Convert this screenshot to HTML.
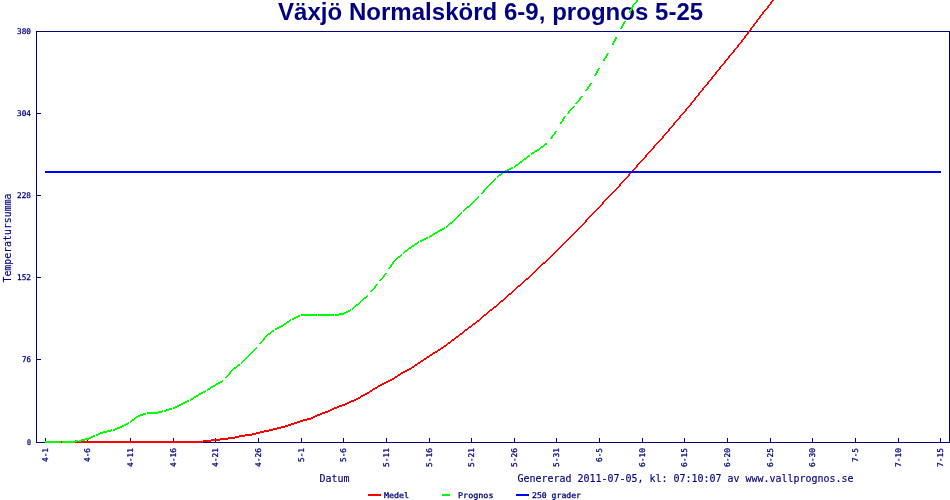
<!DOCTYPE html>
<html lang="sv"><head><meta charset="utf-8"><title>Växjö Normalskörd 6-9, prognos 5-25</title>
<style>
html,body{margin:0;padding:0;background:#fff;}
body{width:950px;height:500px;overflow:hidden;}
svg{display:block;will-change:transform;}
.tiny{font-family:"DejaVu Sans Mono","Liberation Mono",monospace;font-size:7.8px;fill:#000080;stroke:#000080;stroke-width:0.28px;}
.small{font-family:"DejaVu Sans Mono","Liberation Mono",monospace;font-size:11px;fill:#000080;stroke:#000080;stroke-width:0.15px;}
.title{font-family:"Liberation Sans",Arial,sans-serif;font-weight:bold;font-size:24px;fill:#000080;}
</style></head><body>
<svg width="950" height="500" viewBox="0 0 950 500">
<rect x="0" y="0" width="950" height="500" fill="#fff"/>
<text class="title" x="278" y="19.6" textLength="425.2" lengthAdjust="spacing">Växjö Normalskörd 6-9, prognos 5-25</text>
<g shape-rendering="crispEdges" stroke="none">
<g fill="#000080">
<rect x="36" y="31" width="914" height="1"/>
<rect x="36" y="442" width="914" height="1"/>
<rect x="36" y="31" width="1" height="412"/>
<rect x="949" y="31" width="1" height="412"/>
<rect x="37" y="31" width="4" height="1"/>
<rect x="37" y="113" width="4" height="1"/>
<rect x="37" y="195" width="4" height="1"/>
<rect x="37" y="277" width="4" height="1"/>
<rect x="37" y="359" width="4" height="1"/>
<rect x="37" y="442" width="4" height="1"/>
<rect x="45" y="438" width="1" height="4"/>
<rect x="87" y="438" width="1" height="4"/>
<rect x="130" y="438" width="1" height="4"/>
<rect x="173" y="438" width="1" height="4"/>
<rect x="215" y="438" width="1" height="4"/>
<rect x="258" y="438" width="1" height="4"/>
<rect x="301" y="438" width="1" height="4"/>
<rect x="343" y="438" width="1" height="4"/>
<rect x="386" y="438" width="1" height="4"/>
<rect x="429" y="438" width="1" height="4"/>
<rect x="471" y="438" width="1" height="4"/>
<rect x="514" y="438" width="1" height="4"/>
<rect x="556" y="438" width="1" height="4"/>
<rect x="599" y="438" width="1" height="4"/>
<rect x="642" y="438" width="1" height="4"/>
<rect x="684" y="438" width="1" height="4"/>
<rect x="727" y="438" width="1" height="4"/>
<rect x="770" y="438" width="1" height="4"/>
<rect x="812" y="438" width="1" height="4"/>
<rect x="855" y="438" width="1" height="4"/>
<rect x="898" y="438" width="1" height="4"/>
<rect x="940" y="438" width="1" height="4"/>
</g>
<path fill="#ff0000" d="M45,441L53,441L53,443L45,443ZM53,441L62,441L62,443L53,443ZM62,441L70,441L70,443L62,443ZM70,441L79,441L79,443L70,443ZM79,441L87,441L87,443L79,443ZM87,441L96,441L96,443L87,443ZM96,441L104,441L104,443L96,443ZM104,441L113,441L113,443L104,443ZM113,441L121,441L121,443L113,443ZM121,441L130,441L130,443L121,443ZM130,441L138,441L138,443L130,443ZM138,441L147,441L147,443L138,443ZM147,441L155,441L155,443L147,443ZM155,441L164,441L164,443L155,443ZM164,441L173,441L173,443L164,443ZM173,441L181,441L181,443L173,443ZM181,441L190,441L190,443L181,443ZM190,441L198,441L198,443L190,443ZM198,441.06L207,440.06L207,442.06L198,443.06ZM207,440.06L215,439.06L215,441.06L207,442.06ZM215,439.06L224,438.06L224,440.06L215,441.06ZM224,438.06L232,437.06L232,439.06L224,440.06ZM232,437.11L241,435.11L241,437.11L232,439.11ZM241,435.06L249,434.06L249,436.06L241,437.06ZM249,434.11L258,432.11L258,434.11L249,436.11ZM258,432.12L266,430.12L266,432.12L258,434.12ZM266,430.11L275,428.11L275,430.11L266,432.11ZM275,428.12L283,426.12L283,428.12L275,430.12ZM283,426.17L292,423.17L292,425.17L283,428.17ZM292,423.17L301,420.17L301,422.17L292,425.17ZM301,420.12L309,418.12L309,420.12L301,422.12ZM309,418.22L318,414.22L318,416.22L309,420.22ZM318,414.19L326,411.19L326,413.19L318,416.19ZM326,411.22L335,407.22L335,409.22L326,413.22ZM335,407.19L343,404.19L343,406.19L335,409.19ZM343,404.22L352,400.22L352,402.22L343,406.22ZM352,400.25L360,396.25L360,398.25L352,402.25ZM360,396.28L369,391.28L369,393.28L360,398.28ZM369,391.31L377,386.31L377,388.31L369,393.31ZM377,386.28L386,381.28L386,383.28L377,388.28ZM386,381.25L394,377.25L394,379.25L386,383.25ZM394,377.33L403,371.33L403,373.33L394,379.33ZM403,371.25L411,367.25L411,369.25L403,373.25ZM411,367.33L420,361.33L420,363.33L411,369.33ZM420,361.33L429,355.33L429,357.33L420,363.33ZM429,355.31L437,350.31L437,352.31L429,357.31ZM437,350.33L446,344.33L446,346.33L437,352.33ZM446,344.38L454,338.38L454,340.38L446,346.38ZM454,338.39L463,331.39L463,333.39L454,340.39ZM463,331.38L471,325.38L471,327.38L463,333.38ZM471,325.39L480,318.39L480,320.39L471,327.39ZM480,318.44L488,311.44L488,313.44L480,320.44ZM488,311.39L497,304.39L497,306.39L488,313.39ZM497,304.44L505,297.44L505,299.44L497,306.44ZM505,297.44L514,289.44L514,291.44L505,299.44ZM514,289.44L522,282.44L522,284.44L514,291.44ZM522,282.44L531,274.44L531,276.44L522,284.44ZM531,274.5L539,266.5L539,268.5L531,276.5ZM539,266.44L548,258.44L548,260.44L539,268.44ZM548,258.5L556,250.5L556,252.5L548,260.5ZM556,250.5L565,241.5L565,243.5L556,252.5ZM565,241.5L574,232.5L574,234.5L565,243.5ZM574,232.5L582,224.5L582,226.5L574,234.5ZM590.45,215L592.45,215L582.55,226L580.55,226ZM591,214.5L599,206.5L599,208.5L591,216.5ZM607.45,197L609.45,197L599.55,208L597.55,208ZM608,196.5L616,188.5L616,190.5L608,198.5ZM624.45,179L626.45,179L616.55,190L614.55,190ZM632.44,170L634.44,170L625.56,180L623.56,180ZM641.45,160L643.45,160L633.55,171L631.55,171ZM649.44,151L651.44,151L642.56,161L640.56,161ZM658.45,141L660.45,141L650.55,152L648.55,152ZM666.44,132L668.44,132L659.56,142L657.56,142ZM675.41,121L677.41,121L667.59,133L665.59,133ZM683.44,112L685.44,112L676.56,122L674.56,122ZM692.41,101L694.41,101L684.59,113L682.59,113ZM700.4,91L702.4,91L693.6,102L691.6,102ZM709.41,80L711.41,80L701.59,92L699.59,92ZM717.4,70L719.4,70L710.6,81L708.6,81ZM726.41,59L728.41,59L718.59,71L716.59,71ZM735.41,48L737.41,48L727.59,60L725.59,60ZM743.4,38L745.4,38L736.6,49L734.6,49ZM752.38,26L754.38,26L744.62,39L742.62,39ZM760.36,15L762.36,15L753.64,27L751.64,27ZM769.41,4L771.41,4L761.59,16L759.59,16ZM772.27,0L774.27,0L770.64,5L768.64,5Z"/>
<path fill="#00ff00" d="M45,441L53,441L53,443L45,443ZM53,441L61,441L61,443L53,443ZM62,441L70,441L70,443L62,443ZM70,441.06L78,440.17L78,442.17L70,443.06ZM79,440.12L87,438.12L87,440.12L79,442.12ZM87,438.22L95,434.67L95,436.67L87,440.22ZM96,434.19L104,431.19L104,433.19L96,436.19ZM104,431.11L112,429.33L112,431.33L104,433.11ZM113,429.19L121,426.19L121,428.19L113,431.19ZM121,426.28L129,421.83L129,423.83L121,428.28ZM130,421.38L138,415.38L138,417.38L130,423.38ZM138,415.17L146,412.5L146,414.5L138,417.17ZM147,412L155,412L155,414L147,414ZM155,412.11L163,410.33L163,412.33L155,414.11ZM164,410.17L172,407.5L172,409.5L164,412.17ZM173,407.25L181,403.25L181,405.25L173,409.25ZM181,403.22L189,399.67L189,401.67L181,405.22ZM190,399.31L198,394.31L198,396.31L190,401.31ZM198,394.28L206,389.83L206,391.83L198,396.28ZM207,389.31L215,384.31L215,386.31L207,391.31ZM215,384.28L223,379.83L223,381.83L215,386.28ZM231.4,370L233.4,370L227,378L225,378ZM232,369.39L240,363.17L240,365.17L232,371.39ZM241,362.5L249,354.5L249,356.5L241,364.5ZM249,354.5L257,346.5L257,348.5L249,356.5ZM265.4,336L267.4,336L261,344L259,344ZM266,335.39L274,329.17L274,331.17L266,337.39ZM275,328.25L283,324.25L283,326.25L275,330.25ZM283,324.33L291,319L291,321L283,326.33ZM292,318.22L300,314.67L300,316.67L292,320.22ZM301,314L309,314L309,316L301,316ZM309,314L317,314L317,316L309,316ZM318,314L326,314L326,316L318,316ZM326,314L334,314L334,316L326,316ZM335,314.06L343,313.06L343,315.06L335,316.06ZM343,313.28L351,308.83L351,310.83L343,315.28ZM352,308.44L360,301.44L360,303.44L352,310.44ZM360,301.44L368,294.33L368,296.33L360,303.44ZM376.4,284L378.4,284L372,292L370,292ZM385.41,273L387.41,273L380.86,281L378.86,281ZM393.33,261L395.33,261L390,269L388,269ZM394,260.44L402,253.33L402,255.33L394,262.44ZM403,252.38L411,246.38L411,248.38L403,254.38ZM411,246.33L419,241L419,243L411,248.33ZM420,240.22L428,236.67L428,238.67L420,242.22ZM429,236.31L437,231.31L437,233.31L429,238.31ZM437,231.28L445,226.83L445,228.83L437,233.28ZM446,226.44L454,219.44L454,221.44L446,228.44ZM454,219.5L462,211.5L462,213.5L454,221.5ZM463,210.44L471,203.44L471,205.44L463,212.44ZM471,203.5L479,195.5L479,197.5L471,205.5ZM487.44,186L489.44,186L482.33,194L480.33,194ZM488,185.5L496,177.5L496,179.5L488,187.5ZM497,176.38L505,170.38L505,172.38L497,178.38ZM505,170.22L513,166.67L513,168.67L505,172.22ZM514,166.38L522,160.38L522,162.38L514,168.38ZM522,160.39L530,154.17L530,156.17L522,162.39ZM531,153.31L539,148.31L539,150.31L531,155.31ZM539,148.39L547,142.17L547,144.17L539,150.39ZM555.36,131L557.36,131L551.55,139L549.55,139ZM564.3,116L566.3,116L561.5,124L559.5,124ZM573.45,106L575.45,106L568.25,114L566.25,114ZM581.4,96L583.4,96L577,104L575,104ZM590.35,83L592.35,83L586.81,91L584.81,91ZM598.27,68L600.27,68L596,76L594,76ZM607.3,53L609.3,53L604.5,61L602.5,61ZM615.25,37L617.25,37L613.25,45L611.25,45ZM624.28,21L626.28,21L621.78,29L619.78,29ZM632.25,5L634.25,5L630.25,13L628.25,13ZM636.95,0L638.95,0L633.55,6L631.55,6Z"/>
<rect x="45" y="171" width="896" height="2" fill="#0000ff"/>
</g>
<text class="tiny" x="31" y="34" text-anchor="end" textLength="14" lengthAdjust="spacingAndGlyphs">380</text>
<text class="tiny" x="31" y="116" text-anchor="end" textLength="14" lengthAdjust="spacingAndGlyphs">304</text>
<text class="tiny" x="31" y="198" text-anchor="end" textLength="14" lengthAdjust="spacingAndGlyphs">228</text>
<text class="tiny" x="31" y="280" text-anchor="end" textLength="14" lengthAdjust="spacingAndGlyphs">152</text>
<text class="tiny" x="31" y="362" text-anchor="end" textLength="9" lengthAdjust="spacingAndGlyphs">76</text>
<text class="tiny" x="31" y="445" text-anchor="end" textLength="4" lengthAdjust="spacingAndGlyphs">0</text>
<text class="tiny" transform="translate(48,448) rotate(-90)" text-anchor="end" textLength="14" lengthAdjust="spacingAndGlyphs">4-1</text>
<text class="tiny" transform="translate(90,448) rotate(-90)" text-anchor="end" textLength="14" lengthAdjust="spacingAndGlyphs">4-6</text>
<text class="tiny" transform="translate(133,448) rotate(-90)" text-anchor="end" textLength="19" lengthAdjust="spacingAndGlyphs">4-11</text>
<text class="tiny" transform="translate(176,448) rotate(-90)" text-anchor="end" textLength="19" lengthAdjust="spacingAndGlyphs">4-16</text>
<text class="tiny" transform="translate(218,448) rotate(-90)" text-anchor="end" textLength="19" lengthAdjust="spacingAndGlyphs">4-21</text>
<text class="tiny" transform="translate(261,448) rotate(-90)" text-anchor="end" textLength="19" lengthAdjust="spacingAndGlyphs">4-26</text>
<text class="tiny" transform="translate(304,448) rotate(-90)" text-anchor="end" textLength="14" lengthAdjust="spacingAndGlyphs">5-1</text>
<text class="tiny" transform="translate(346,448) rotate(-90)" text-anchor="end" textLength="14" lengthAdjust="spacingAndGlyphs">5-6</text>
<text class="tiny" transform="translate(389,448) rotate(-90)" text-anchor="end" textLength="19" lengthAdjust="spacingAndGlyphs">5-11</text>
<text class="tiny" transform="translate(432,448) rotate(-90)" text-anchor="end" textLength="19" lengthAdjust="spacingAndGlyphs">5-16</text>
<text class="tiny" transform="translate(474,448) rotate(-90)" text-anchor="end" textLength="19" lengthAdjust="spacingAndGlyphs">5-21</text>
<text class="tiny" transform="translate(517,448) rotate(-90)" text-anchor="end" textLength="19" lengthAdjust="spacingAndGlyphs">5-26</text>
<text class="tiny" transform="translate(559,448) rotate(-90)" text-anchor="end" textLength="19" lengthAdjust="spacingAndGlyphs">5-31</text>
<text class="tiny" transform="translate(602,448) rotate(-90)" text-anchor="end" textLength="14" lengthAdjust="spacingAndGlyphs">6-5</text>
<text class="tiny" transform="translate(645,448) rotate(-90)" text-anchor="end" textLength="19" lengthAdjust="spacingAndGlyphs">6-10</text>
<text class="tiny" transform="translate(687,448) rotate(-90)" text-anchor="end" textLength="19" lengthAdjust="spacingAndGlyphs">6-15</text>
<text class="tiny" transform="translate(730,448) rotate(-90)" text-anchor="end" textLength="19" lengthAdjust="spacingAndGlyphs">6-20</text>
<text class="tiny" transform="translate(773,448) rotate(-90)" text-anchor="end" textLength="19" lengthAdjust="spacingAndGlyphs">6-25</text>
<text class="tiny" transform="translate(815,448) rotate(-90)" text-anchor="end" textLength="19" lengthAdjust="spacingAndGlyphs">6-30</text>
<text class="tiny" transform="translate(858,448) rotate(-90)" text-anchor="end" textLength="14" lengthAdjust="spacingAndGlyphs">7-5</text>
<text class="tiny" transform="translate(901,448) rotate(-90)" text-anchor="end" textLength="19" lengthAdjust="spacingAndGlyphs">7-10</text>
<text class="tiny" transform="translate(943,448) rotate(-90)" text-anchor="end" textLength="19" lengthAdjust="spacingAndGlyphs">7-15</text>
<text class="small" transform="translate(11,282.5) rotate(-90)" textLength="89" lengthAdjust="spacingAndGlyphs">Temperatursumma</text>
<text class="small" x="319.5" y="482" textLength="30" lengthAdjust="spacingAndGlyphs">Datum</text>
<text class="small" x="517.5" y="482" textLength="336" lengthAdjust="spacingAndGlyphs">Genererad 2011-07-05, kl: 07:10:07 av www.vallprognos.se</text>
<g shape-rendering="crispEdges"><rect x="368" y="494" width="13" height="2" fill="#ff0000"/><rect x="442" y="494" width="8" height="2" fill="#00ff00"/><rect x="516" y="494" width="13" height="2" fill="#0000ff"/></g>
<text class="tiny" x="384" y="498" textLength="25" lengthAdjust="spacingAndGlyphs">Medel</text>
<text class="tiny" x="458" y="498" textLength="35.5" lengthAdjust="spacingAndGlyphs">Prognos</text>
<text class="tiny" x="532" y="498" textLength="49" lengthAdjust="spacingAndGlyphs">250 grader</text>
</svg></body></html>
